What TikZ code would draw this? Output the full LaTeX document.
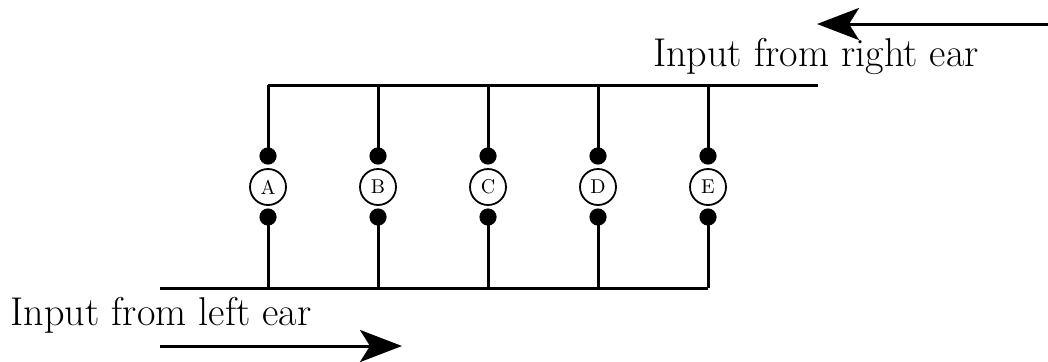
\documentclass[tikz,border=0pt]{standalone}
\usetikzlibrary{arrows.meta}
\tikzset{
  wire/.style={line width=1.5pt},
  cell/.style={circle, draw, line width=0.9pt, minimum size=18pt, inner sep=0pt, font=\fontsize{10}{12}\selectfont},
  synapse/.style={circle, fill=black, minimum size=8.6pt, inner sep=0pt},
  flow/.style={line width=1.5pt, -{Stealth[length=21pt,width=16pt,inset=5pt]}},
  caption/.style={anchor=base, inner sep=0pt, font=\fontsize{20.1}{24}\selectfont}
}
\begin{document}
\begin{tikzpicture}[x=0.5pt,y=-0.5pt]
  \useasboundingbox (0,0) rectangle (1048,361);
  % input lines from both ears
  \coordinate (rightend) at (818,85);
  \coordinate (leftend) at (160,288);
  \coordinate (topstart) at (268,85);
  \coordinate (botend) at (708,288);
  \draw[wire] (topstart) -- (rightend);
  \draw[wire] (leftend) -- (botend);
  % coincidence detector cells with their synapses
  \foreach \n/\x in {A/268,B/378,C/488,D/598,E/708}{
    \node[cell] (\n) at (\x,187) {\n};
    \node[synapse] (\n up) at (\x,156) {};
    \node[synapse] (\n dn) at (\x,217) {};
    \coordinate (\n top) at (\x,85);
    \coordinate (\n bot) at (\x,288);
    \draw[wire] (\n top) -- (\n up.center);
    \draw[wire] (\n dn.center) -- (\n bot);
  }
  % labels and signal directions
  \node[caption] (rlabel) at (816,66) {Input from right ear};
  \node[caption] (llabel) at (161,325) {Input from left ear};
  \coordinate (rtail) at (1048,24);
  \coordinate (rtip) at (817,24);
  \coordinate (ltail) at (160,346);
  \coordinate (ltip) at (402,346);
  \draw[flow] (rtail) -- (rtip);
  \draw[flow] (ltail) -- (ltip);
\end{tikzpicture}
\end{document}
